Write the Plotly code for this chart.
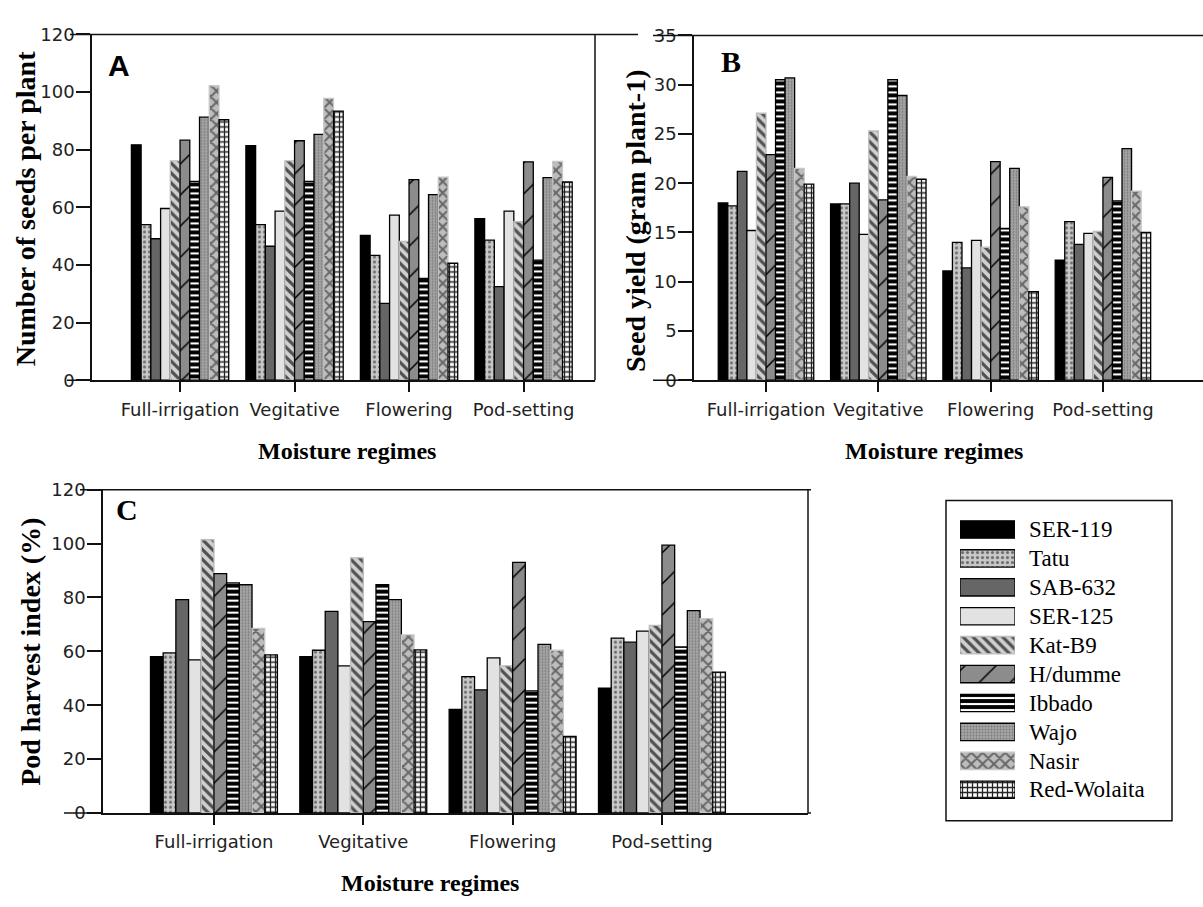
import plotly.graph_objects as go

W, H = 1203, 907

regimes = ["Full-irrigation", "Vegitative", "Flowering", "Pod-setting"]
genotypes = ["SER-119", "Tatu", "SAB-632", "SER-125", "Kat-B9",
             "H/dumme", "Ibbado", "Wajo", "Nasir", "Red-Wolaita"]

# Panel A: number of seeds per plant
seeds_ser119 = [81.7, 81.4, 50.3, 56.1]
seeds_tatu = [54.0, 54.0, 43.3, 48.6]
seeds_sab632 = [49.1, 46.5, 26.7, 32.5]
seeds_ser125 = [59.6, 58.7, 57.3, 58.7]
seeds_katb9 = [76.1, 76.1, 48.2, 55.0]
seeds_hdumme = [83.3, 83.1, 69.6, 75.8]
seeds_ibbado = [69.0, 69.0, 35.3, 41.7]
seeds_wajo = [91.3, 85.3, 64.4, 70.3]
seeds_nasir = [102.2, 97.8, 70.5, 75.9]
seeds_redwolaita = [90.4, 93.4, 40.6, 68.8]

# Panel B: seed yield (gram plant-1)
yield_ser119 = [18.0, 17.9, 11.1, 12.2]
yield_tatu = [17.7, 17.9, 14.0, 16.1]
yield_sab632 = [21.2, 20.0, 11.4, 13.8]
yield_ser125 = [15.2, 14.8, 14.2, 14.9]
yield_katb9 = [27.1, 25.3, 13.5, 15.1]
yield_hdumme = [22.9, 18.3, 22.2, 20.6]
yield_ibbado = [30.5, 30.5, 15.4, 18.2]
yield_wajo = [30.7, 28.9, 21.5, 23.5]
yield_nasir = [21.5, 20.7, 17.6, 19.2]
yield_redwolaita = [19.9, 20.4, 9.0, 15.0]

# Panel C: pod harvest index (%)
phi_ser119 = [58.0, 58.0, 38.4, 46.3]
phi_tatu = [59.4, 60.4, 50.6, 64.9]
phi_sab632 = [79.2, 74.8, 45.7, 63.4]
phi_ser125 = [56.8, 54.6, 57.6, 67.5]
phi_katb9 = [101.4, 94.7, 54.6, 69.6]
phi_hdumme = [88.8, 71.0, 93.0, 99.4]
phi_ibbado = [85.4, 84.7, 45.3, 61.6]
phi_wajo = [84.7, 79.2, 62.6, 75.1]
phi_nasir = [68.5, 66.1, 60.4, 72.1]
phi_redwolaita = [58.7, 60.5, 28.4, 52.3]

seeds = [seeds_ser119, seeds_tatu, seeds_sab632, seeds_ser125, seeds_katb9,
         seeds_hdumme, seeds_ibbado, seeds_wajo, seeds_nasir, seeds_redwolaita]
yields = [yield_ser119, yield_tatu, yield_sab632, yield_ser125, yield_katb9,
          yield_hdumme, yield_ibbado, yield_wajo, yield_nasir, yield_redwolaita]
phis = [phi_ser119, phi_tatu, phi_sab632, phi_ser125, phi_katb9,
        phi_hdumme, phi_ibbado, phi_wajo, phi_nasir, phi_redwolaita]

# styles: (bgcolor, pattern shape, fgcolor, size, solidity, outline color)
styles = [
    ("#000000", "", "#000000", 8, 0.3, "#000000"),
    ("#c8c8c8", ".", "#6e6e6e", 5, 0.3, "#000000"),
    ("#666666", "", "#666666", 8, 0.3, "#000000"),
    ("#e2e2e2", "", "#e2e2e2", 8, 0.3, "#000000"),
    ("#d0d0d0", "\\", "#505050", 7, 0.45, "#bdbdbd"),
    ("#8c8c8c", "/", "#000000", 22, 0.07, "#000000"),
    ("#000000", "-", "#ffffff", 6, 0.35, "#000000"),
    ("#a6a6a6", ".", "#7a7a7a", 3, 0.3, "#000000"),
    ("#bdbdbd", "x", "#686868", 8, 0.45, "#c8c8c8"),
    ("#ffffff", "+", "#222222", 5, 0.45, "#000000"),
]


def px_x(p):
    return p / W


def px_y(p):
    return 1 - p / H


def marker_for(st):
    bg, shp, fg, sz, sol, lc = st
    return dict(color=bg, line=dict(color=lc, width=1.3),
                pattern=dict(shape=shp, fgcolor=fg, bgcolor=bg,
                             size=sz, solidity=sol, fillmode="replace"))


fig = go.Figure()

panels = [("x", "y", seeds), ("x2", "y2", yields), ("x3", "y3", phis)]
for xa, ya, data in panels:
    for g, vals, st in zip(genotypes, data, styles):
        fig.add_trace(go.Bar(
            x=regimes, y=vals, name=g, xaxis=xa, yaxis=ya, showlegend=False,
            marker=marker_for(st),
        ))

# legend swatches drawn as short horizontal bars on their own hidden axis
swatch_len = 1
for i, (g, st) in enumerate(zip(genotypes, styles)):
    fig.add_trace(go.Bar(
        y=[i], x=[swatch_len], orientation="h", name=g,
        xaxis="x4", yaxis="y4", showlegend=False, width=0.6, offset=-0.3,
        marker=marker_for(st),
    ))

tickfont = dict(family="DejaVu Sans", size=18, color="#222222")


def xax(domain, rng, anchor):
    return dict(domain=domain, range=rng, type="category", showline=True,
                linecolor="#111", linewidth=1.5, ticks="outside", ticklen=10,
                tickwidth=1.5, tickcolor="#111", tickfont=tickfont,
                ticklabelstandoff=2, showgrid=False, zeroline=False,
                anchor=anchor, fixedrange=True)


def yax(domain, rng, dtick, anchor):
    return dict(domain=domain, range=rng, dtick=dtick, tick0=0, showline=True,
                linecolor="#111", linewidth=1.5, ticks="outside", ticklen=14,
                tickwidth=1.5, tickcolor="#111", tickfont=tickfont,
                ticklabelstandoff=-2, showgrid=False, zeroline=False,
                anchor=anchor, fixedrange=True)


# Panel geometry (pixels)
A = dict(l=92, r=595, t=24, b=378)
B = dict(l=694, r=1203, t=25, b=378)
C = dict(l=103, r=808, t=490, b=821)

fig.update_layout(
    width=W, height=H, margin=dict(l=0, r=0, t=0, b=0),
    paper_bgcolor="white", plot_bgcolor="rgba(0,0,0,0)",
    barmode="group", bargap=0.15, bargroupgap=0,
    showlegend=False, hovermode=False,
    xaxis=xax([px_x(A["l"]), px_x(A["r"])], [-0.769, 3.624], "y"),
    yaxis=yax([px_y(A["b"]), px_y(A["t"])], [0, 120], 20, "x"),
    xaxis2=xax([px_x(B["l"]), px_x(B["r"])], [-0.641, 3.891], "y2"),
    yaxis2=yax([px_y(B["b"]), px_y(B["t"])], [0, 35], 5, "x2"),
    xaxis3=xax([px_x(C["l"]), px_x(C["r"])], [-0.743, 3.978], "y3"),
    yaxis3=yax([px_y(C["b"]), px_y(C["t"])], [0, 120], 20, "x3"),
    xaxis4=dict(domain=[px_x(960), px_x(1015)], range=[0, 1], visible=False,
                anchor="y4", fixedrange=True),
    yaxis4=dict(domain=[px_y(812), px_y(516)], range=[9.5, -0.5], visible=False,
                anchor="x4", fixedrange=True),
)

line = dict(color="#111", width=1.5)
shapes = [
    # panel A frame extras
    dict(type="line", xref="paper", yref="paper", x0=px_x(70), x1=px_x(638),
         y0=px_y(A["t"]), y1=px_y(A["t"]), line=line),
    dict(type="line", xref="paper", yref="paper", x0=px_x(67), x1=px_x(A["l"]),
         y0=px_y(A["b"]), y1=px_y(A["b"]), line=line),
    dict(type="line", xref="paper", yref="paper", x0=px_x(A["r"]), x1=px_x(A["r"]),
         y0=px_y(A["t"]), y1=px_y(A["b"]), line=line),
    # panel B frame extras
    dict(type="line", xref="paper", yref="paper", x0=px_x(653), x1=1,
         y0=px_y(B["t"]), y1=px_y(B["t"]), line=line),
    dict(type="line", xref="paper", yref="paper", x0=px_x(653), x1=px_x(B["l"]),
         y0=px_y(B["b"]), y1=px_y(B["b"]), line=line),
    # panel C frame extras
    dict(type="line", xref="paper", yref="paper", x0=px_x(80), x1=px_x(811),
         y0=px_y(C["t"]), y1=px_y(C["t"]), line=line),
    dict(type="line", xref="paper", yref="paper", x0=px_x(64), x1=px_x(C["l"]),
         y0=px_y(C["b"]), y1=px_y(C["b"]), line=line),
    dict(type="line", xref="paper", yref="paper", x0=px_x(C["r"]), x1=px_x(811),
         y0=px_y(C["b"]), y1=px_y(C["b"]), line=line),
    dict(type="line", xref="paper", yref="paper", x0=px_x(C["r"]), x1=px_x(C["r"]),
         y0=px_y(C["t"]), y1=px_y(C["b"]), line=line),
    # legend box
    dict(type="rect", xref="paper", yref="paper", x0=px_x(946), x1=px_x(1172),
         y0=px_y(829), y1=px_y(501), line=dict(color="#111", width=1.5)),
]
fig.update_layout(shapes=shapes)

serif = "Liberation Serif"
ann = []


def text(x, y, s, size, bold=True, family=serif, angle=0, xanchor="center"):
    ann.append(dict(xref="paper", yref="paper", x=px_x(x), y=px_y(y),
                    text=f"<b>{s}</b>" if bold else s, showarrow=False,
                    font=dict(family=family, size=size, color="#000"),
                    textangle=angle, xanchor=xanchor, yanchor="middle"))


# axis titles
text(347, 450, "Moisture regimes", 24)
text(934, 450, "Moisture regimes", 24)
text(430, 893, "Moisture regimes", 24)
text(25, 203, "Number of seeds per plant", 28, angle=-90)
text(635, 215, "Seed yield (gram plant-1)", 28, angle=-90)
text(31, 656, "Pod harvest index (%)", 28, angle=-90)
# panel letters
text(119, 56, "A", 30, family="Liberation Sans")
text(731, 52, "B", 30)
text(127, 510, "C", 30)
# legend labels
for i, g in enumerate(genotypes):
    text(1027, 531 + i * 29.6, g, 23, bold=False, xanchor="left")

fig.update_layout(annotations=ann)

fig.write_html("out.html", config={"displayModeBar": False},
               post_script="document.body.style.margin='0';"
                           "document.body.style.padding='0';")
